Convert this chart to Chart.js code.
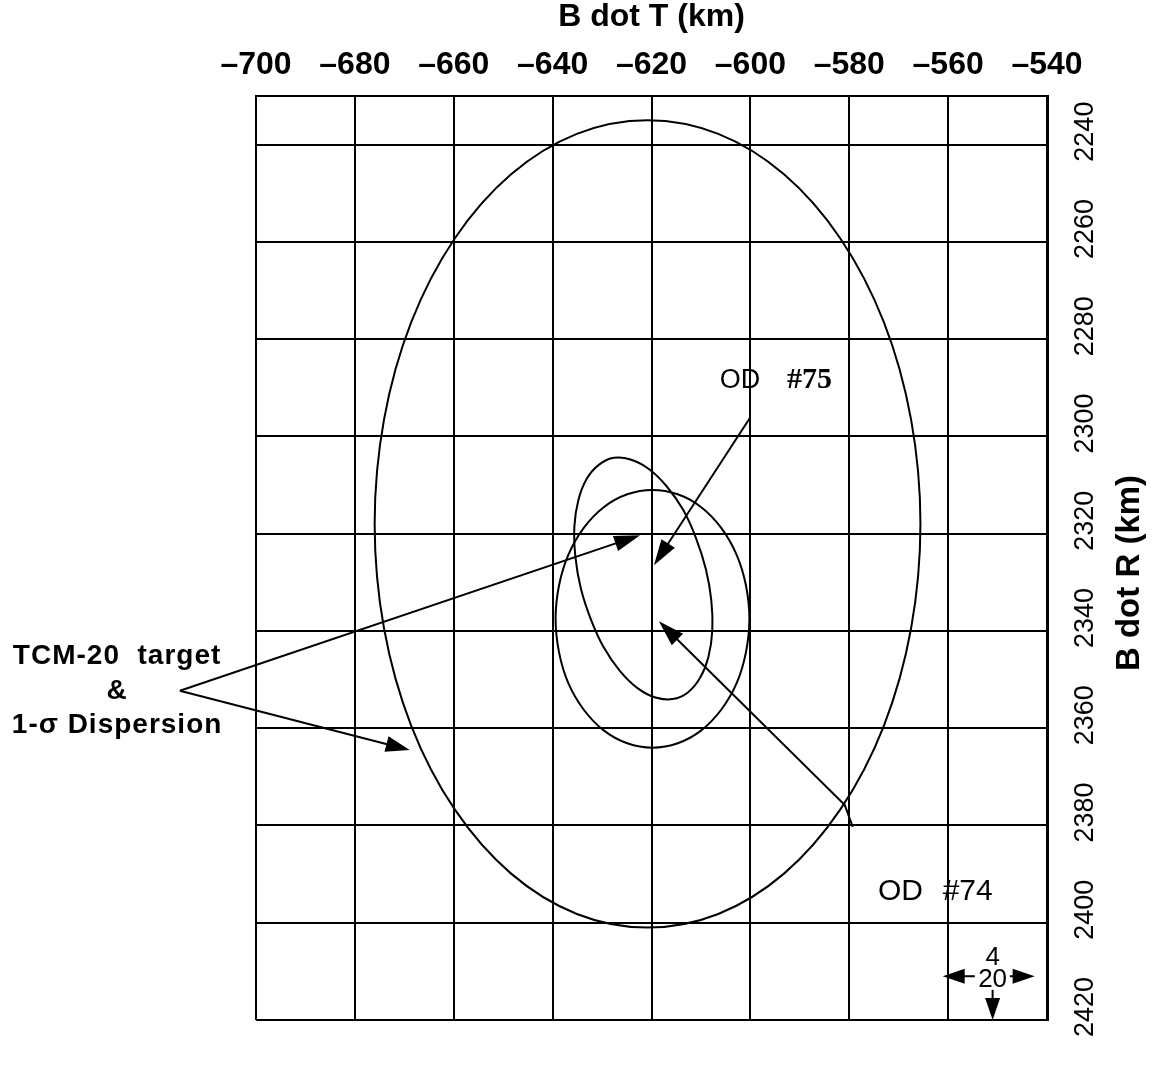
<!DOCTYPE html>
<html>
<head>
<meta charset="utf-8">
<title>B-plane: TCM-20 target, OD #74 and OD #75</title>
<script src="https://cdn.jsdelivr.net/npm/chart.js@4.4.1/dist/chart.umd.min.js"></script>
<style>
  html, body { margin: 0; padding: 0; background: #fff; }
  canvas { display: block; }
</style>
</head>
<body>
<canvas id="bplane" width="1154" height="1066"></canvas>
<script>
// ---- axes (km) ----
const tTicks = [-700, -680, -660, -640, -620, -600, -580, -560, -540];
const rTicks = [2240, 2260, 2280, 2300, 2320, 2340, 2360, 2380, 2400, 2420];

// ---- TCM-20 target 1-sigma dispersion ellipse (B dot T, B dot R) ----
const dispT = [-620.8, -606.5, -593.2, -581.8, -573.0, -567.5, -565.6, -567.5,
               -573.0, -581.8, -593.2, -606.5, -620.8, -635.1, -648.4, -659.8,
               -668.6, -674.1, -676.0, -674.1, -668.6, -659.8, -648.4, -635.1];
const dispR = [2235.0, 2237.8, 2246.1, 2259.3, 2276.5, 2296.5, 2318.0, 2339.5,
               2359.5, 2376.7, 2389.9, 2398.2, 2401.0, 2398.2, 2389.9, 2376.7,
               2359.5, 2339.5, 2318.0, 2296.5, 2276.5, 2259.3, 2246.1, 2237.8];

// ---- OD #75 ellipse ----
const od75T = [-619.2, -615.7, -612.7, -610.2, -608.5, -607.7, -607.9, -609.0,
               -611.0, -613.6, -616.9, -620.4, -624.1, -627.6, -630.6, -633.1,
               -634.8, -635.6, -635.4, -634.3, -632.3, -629.7, -626.4, -622.9];
const od75R = [2353.7, 2354.0, 2352.7, 2349.7, 2345.4, 2339.9, 2333.7, 2327.3,
               2320.9, 2315.1, 2310.3, 2306.8, 2304.8, 2304.4, 2305.8, 2308.7,
               2313.1, 2318.5, 2324.7, 2331.2, 2337.5, 2343.3, 2348.2, 2351.7];

// ---- OD #74 ellipse ----
const od74T = [-619.8, -614.7, -610.0, -605.9, -602.8, -600.9, -600.2, -600.9,
               -602.8, -605.9, -610.0, -614.7, -619.8, -624.9, -629.6, -633.7,
               -636.8, -638.7, -639.4, -638.7, -636.8, -633.7, -629.6, -624.9];
const od74R = [2311.0, 2311.9, 2314.5, 2318.8, 2324.3, 2330.6, 2337.5, 2344.4,
               2350.8, 2356.2, 2360.5, 2363.1, 2364.0, 2363.1, 2360.5, 2356.2,
               2350.8, 2344.4, 2337.5, 2330.6, 2324.3, 2318.8, 2314.5, 2311.9];

// ---- pointer lines, [B dot T, B dot R]; the last vertex carries the head ----
const labelVertex   = [-715.4, 2352.3];
const targetTip     = [-622.3, 2320.3];
const dispersionTip = [-668.9, 2364.5];
const od75Arrow = [[-600.1, 2296.2], [-619.5, 2326.5]];
const od74Arrow = [[-579.3, 2380.3], [-580.9, 2375.8], [-618.5, 2338.0]];

const FONT = "'Liberation Sans', Arial, Helvetica, sans-serif";

// closed curve: wrap one point before and two after, hide the wrap segments
function ellipseSet(label, ts, rs) {
  const pts = ts.map((t, i) => ({ x: t, y: rs[i] }));
  const data = [pts[pts.length - 1], ...pts, pts[0], pts[1]];
  const last = data.length - 1;
  return {
    label, data,
    showLine: true, fill: false,
    pointRadius: 0, pointHoverRadius: 0,
    borderColor: '#000', borderWidth: 2, tension: 0.34,
    segment: {
      borderColor: c => (c.p0DataIndex === 0 || c.p1DataIndex === last) ? 'rgba(0,0,0,0)' : undefined
    }
  };
}

const annotations = {
  id: 'annotations',
  afterDraw(chart) {
    const { ctx, scales: { x, y }, chartArea } = chart;
    const P = ([t, r]) => [x.getPixelForValue(t), y.getPixelForValue(r)];
    ctx.save();
    ctx.strokeStyle = '#000';
    ctx.fillStyle = '#000';
    ctx.lineWidth = 2;

    const line = pts => {
      ctx.beginPath();
      pts.forEach((p, i) => i ? ctx.lineTo(p[0], p[1]) : ctx.moveTo(p[0], p[1]));
      ctx.stroke();
    };
    const head = (from, to, len, half) => {
      const a = Math.atan2(to[1] - from[1], to[0] - from[0]);
      const bx = to[0] - len * Math.cos(a), by = to[1] - len * Math.sin(a);
      ctx.beginPath();
      ctx.moveTo(to[0], to[1]);
      ctx.lineTo(bx + half * Math.sin(a), by - half * Math.cos(a));
      ctx.lineTo(bx - half * Math.sin(a), by + half * Math.cos(a));
      ctx.closePath();
      ctx.fill();
    };
    const arrow = (pts, len = 26, half = 8) => {
      const px = pts.map(P);
      const a = px[px.length - 2], b = px[px.length - 1];
      const d = Math.hypot(b[0] - a[0], b[1] - a[1]);
      const k = (d - len * 0.6) / d;
      const shaftEnd = [a[0] + (b[0] - a[0]) * k, a[1] + (b[1] - a[1]) * k];
      line(px.slice(0, -1).concat([shaftEnd]));
      head(a, b, len, half);
    };

    // TCM-20 target & dispersion pointers
    arrow([labelVertex, targetTip], 26, 8);
    arrow([labelVertex, dispersionTip], 24, 8);
    // OD pointers
    arrow(od75Arrow, 26, 8);
    arrow(od74Arrow, 26, 8);

    // left annotation text
    ctx.textAlign = 'center';
    ctx.textBaseline = 'alphabetic';
    ctx.font = `bold 28px ${FONT}`;
    ctx.letterSpacing = '1px';
    const lx = x.getPixelForValue(-728.1);
    ctx.fillText('TCM-20  target', lx, y.getPixelForValue(2346.8));
    ctx.fillText('&', lx, y.getPixelForValue(2354.0));
    ctx.fillText('1-\u03C3 Dispersion', lx, y.getPixelForValue(2361.0));
    ctx.letterSpacing = '0px';

    // OD labels
    ctx.textAlign = 'left';
    ctx.font = `27px ${FONT}`;
    ctx.fillText('OD', x.getPixelForValue(-606.2), y.getPixelForValue(2290.0));
    ctx.font = "bold 30px 'Liberation Serif', 'Times New Roman', serif";
    ctx.fillText('#75', x.getPixelForValue(-592.6), y.getPixelForValue(2290.0));
    ctx.font = `30px ${FONT}`;
    ctx.fillText('OD', x.getPixelForValue(-574.2), y.getPixelForValue(2395.3));
    ctx.fillText('#74', x.getPixelForValue(-561.1), y.getPixelForValue(2395.3));

    // 20 km scale marker
    ctx.textAlign = 'center';
    ctx.font = `26px ${FONT}`;
    const sx = x.getPixelForValue(-551.0);
    ctx.fillText('4', sx, y.getPixelForValue(2408.7));
    ctx.fillText('20', sx, y.getPixelForValue(2413.2));
    arrow([[-554.6, 2411.0], [-561.1, 2411.0]], 22, 7.5);
    arrow([[-547.5, 2411.0], [-542.5, 2411.0]], 22, 7.5);
    arrow([[-551.0, 2413.8], [-551.0, 2420.0]], 22, 7.5);

    // right axis title, reading upward
    ctx.save();
    ctx.translate(y.right - 24, (chartArea.top + chartArea.bottom) / 2 + 15);
    ctx.rotate(-Math.PI / 2);
    ctx.textAlign = 'center';
    ctx.textBaseline = 'middle';
    ctx.font = `bold 33px ${FONT}`;
    ctx.fillText('B dot R (km)', 0, 0);
    ctx.restore();

    ctx.restore();
  }
};

new Chart(document.getElementById('bplane'), {
  type: 'scatter',
  data: {
    datasets: [
      ellipseSet('TCM-20 1-\u03C3 dispersion', dispT, dispR),
      ellipseSet('OD #75', od75T, od75R),
      ellipseSet('OD #74', od74T, od74R)
    ]
  },
  options: {
    responsive: false,
    animation: false,
    devicePixelRatio: 1,
    events: [],
    layout: { padding: { left: 256, right: 0, top: 0, bottom: 46 } },
    plugins: { legend: { display: false }, tooltip: { enabled: false } },
    scales: {
      x: {
        type: 'linear',
        position: 'top',
        min: -700, max: -540,
        afterBuildTicks: s => { s.ticks = tTicks.map(v => ({ value: v })); },
        afterFit: s => { s.height = 96; },
        ticks: {
          autoSkip: false, maxRotation: 0,
          padding: 12,
          color: '#000',
          font: { family: FONT, size: 32, weight: 'bold' },
          callback: v => '\u2013' + Math.abs(v)
        },
        grid: { color: '#000', lineWidth: 2, drawTicks: false },
        border: { color: '#000', width: 2 },
        title: {
          display: true, text: 'B dot T (km)', color: '#000',
          font: { family: FONT, size: 32, weight: 'bold', lineHeight: 1 },
          padding: { top: 1, bottom: 0 }
        }
      },
      y: {
        type: 'linear',
        position: 'right',
        reverse: true,
        min: 2230, max: 2420,
        afterBuildTicks: s => { s.ticks = rTicks.map(v => ({ value: v })); },
        afterFit: s => { s.width = 107; },
        ticks: {
          autoSkip: false,
          minRotation: 90, maxRotation: 90,
          crossAlign: 'center',
          labelOffset: -13,
          padding: 9,
          color: '#000',
          font: { family: FONT, size: 27 },
          callback: v => String(v)
        },
        grid: { color: '#000', lineWidth: 2, drawTicks: false },
        border: { color: '#000', width: 3 }
      }
    }
  },
  plugins: [annotations]
});
</script>
</body>
</html>
